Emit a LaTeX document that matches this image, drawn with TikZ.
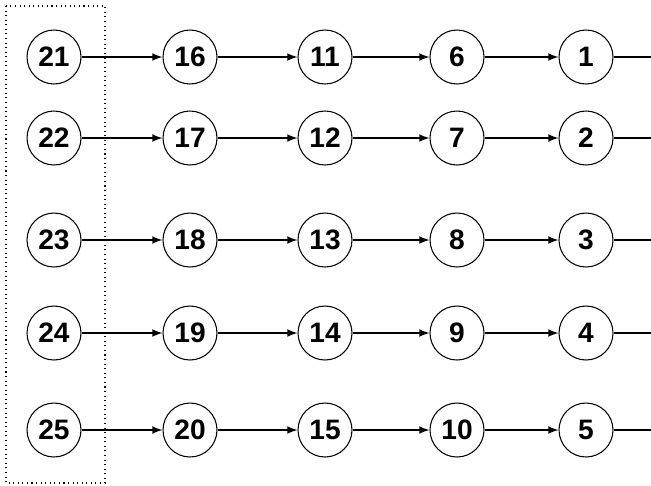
\documentclass[tikz,border=0pt]{standalone}
\usepackage{fontspec}
\setmainfont{Liberation Sans}
\usetikzlibrary{arrows, positioning}

\begin{document}
\begin{tikzpicture}[x=0.02cm, y=-0.02cm,
        stage/.style={circle, draw, line width=0.6pt, minimum size=1.08cm, inner sep=0pt,
            font=\fontsize{16}{18}\selectfont\bfseries},
        link/.style={-latex, line width=1pt}]
    \useasboundingbox (0,0) rectangle (651,485);
    \draw[dotted, line width=0.6pt] (6,6) rectangle (105,483);
    \foreach \y [count=\r] in {57,138,240,333,430} {
        \foreach \x [count=\c] in {54,190,325,457,586} {
            \pgfmathtruncatemacro{\n}{5*(5-\c)+\r}
            \node[stage] (n\n) at (\x,\y) {\n};
        };
        \coordinate (out\r) at (651,\y);
    };
    \foreach \r in {1,...,5} {
        \foreach \c in {1,...,4} {
            \pgfmathtruncatemacro{\a}{5*(5-\c)+\r}
            \pgfmathtruncatemacro{\b}{\a-5}
            \draw[link] (n\a) -- (n\b);
        };
        \draw[line width=1pt] (n\r) -- (out\r);
    };
\end{tikzpicture}
\end{document}
